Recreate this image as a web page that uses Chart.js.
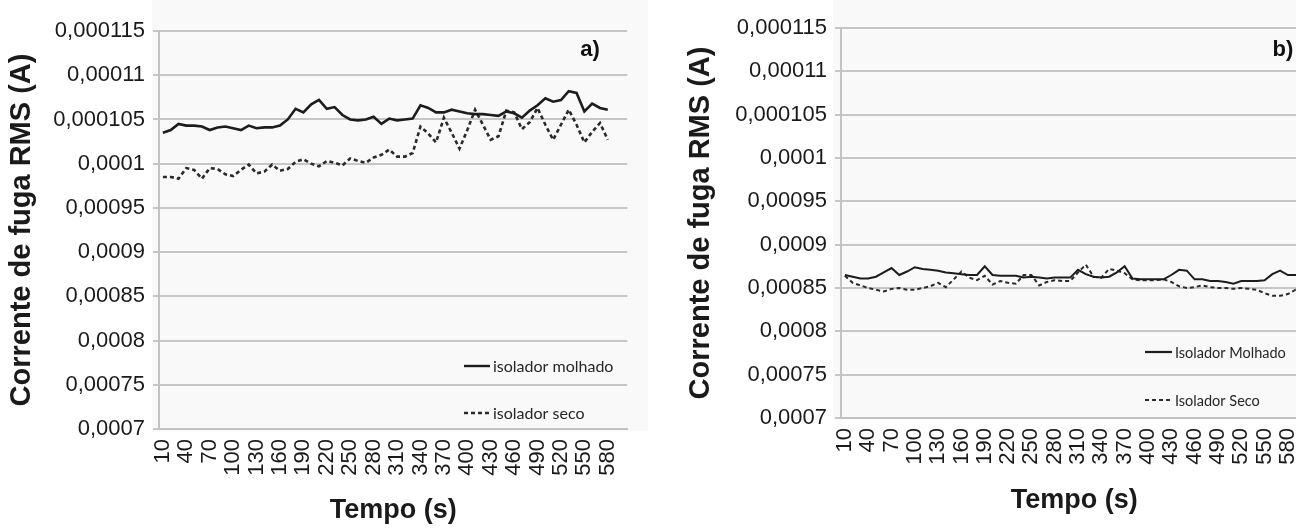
<!DOCTYPE html>
<html>
<head>
<meta charset="utf-8">
<script src="https://cdn.jsdelivr.net/npm/chart.js@4/dist/chart.umd.min.js"></script>
<style>
  html, body { margin:0; padding:0; overflow:hidden; background:#ffffff; width:1296px; height:531px; }
  .panel { position:absolute; top:0; height:531px; }
  #pa { left:0; width:660px; }
  #pb { left:660px; width:680px; }
</style>
</head>
<body>
<div class="panel" id="pa"><canvas id="c1"></canvas></div>
<div class="panel" id="pb"><canvas id="c2"></canvas></div>
<script>
// ---- categories (time, s) ----
const timeLabels = [10,20,30,40,50,60,70,80,90,100,110,120,130,140,150,160,170,180,190,200,
  210,220,230,240,250,260,270,280,290,300,310,320,330,340,350,360,370,380,390,400,
  410,420,430,440,450,460,470,480,490,500,510,520,530,540,550,560,570,580,590,600];

// ---- y tick values (plot units) and the labels printed on the axis ----
const yTickValues = [70,75,80,85,90,95,100,105,110,115];
const yTickLabels = ['0,0007','0,00075','0,0008','0,00085','0,0009','0,00095','0,0001','0,000105','0,00011','0,000115'];

// ---- panel a) ----
const aMolhado = [103.5,103.8,104.5,104.3,104.3,104.2,103.8,104.1,104.2,104.0,
  103.8,104.3,104.0,104.1,104.1,104.3,105.0,106.2,105.8,106.7,
  107.2,106.2,106.4,105.5,105.0,104.9,105.0,105.3,104.5,105.1,
  104.9,105.0,105.1,106.6,106.3,105.8,105.8,106.1,105.9,105.7,
  105.6,105.6,105.5,105.4,105.9,105.7,105.2,106.0,106.6,107.4,
  107.0,107.2,108.2,108.0,105.9,106.8,106.3,106.1];
const aSeco = [98.5,98.5,98.3,99.5,99.3,98.3,99.5,99.4,98.8,98.6,
  99.3,99.9,98.9,99.1,99.9,99.2,99.4,100.2,100.5,100.0,
  99.7,100.3,100.1,99.8,100.6,100.3,100.1,100.7,101.0,101.6,
  100.8,100.8,101.2,104.2,103.4,102.4,105.2,103.5,101.7,103.8,
  106.1,104.4,102.7,103.1,106.0,105.8,103.9,104.7,106.3,104.4,
  102.7,104.4,106.1,104.4,102.4,103.6,104.6,102.7];

// ---- panel b) ----
const bMolhado = [86.5,86.3,86.1,86.1,86.3,86.8,87.3,86.5,86.9,87.4,
  87.2,87.1,87.0,86.8,86.7,86.6,86.5,86.5,87.5,86.5,
  86.4,86.4,86.4,86.2,86.3,86.2,86.1,86.2,86.2,86.2,
  87.1,86.6,86.3,86.2,86.3,86.8,87.5,86.1,86.0,86.0,
  86.0,86.0,86.5,87.1,87.0,86.0,86.0,85.8,85.8,85.7,
  85.5,85.8,85.8,85.8,85.9,86.6,87.0,86.5,86.5,86.4];
const bSeco = [86.4,85.6,85.3,85.0,84.8,84.6,84.9,85.0,84.8,84.8,
  85.0,85.2,85.6,85.1,86.0,86.9,86.2,85.9,86.4,85.4,
  85.8,85.6,85.5,86.5,86.5,85.3,85.7,85.9,85.8,85.8,
  86.8,87.7,86.3,86.2,87.2,87.0,86.7,86.0,85.9,85.9,
  85.9,86.0,85.7,85.2,85.0,85.1,85.3,85.1,85.0,85.0,
  84.9,85.0,84.9,84.8,84.4,84.1,84.1,84.3,84.8,84.6];

const aLegend = ['isolador molhado','isolador seco'];
const bLegend = ['Isolador Molhado','Isolador Seco'];

const FONT = '"Liberation Sans", Arial, sans-serif';

const decorPlugin = {
  id: 'decor',
  beforeDraw(chart, args, o) {
    const ctx = chart.ctx;
    ctx.save();
    ctx.fillStyle = o.bgColor;
    ctx.fillRect(o.bg[0], o.bg[1], o.bg[2] - o.bg[0], o.bg[3] - o.bg[1]);
    ctx.restore();
  },
  afterDraw(chart, args, o) {
    const ctx = chart.ctx;
    ctx.save();
    ctx.fillStyle = '#111';
    ctx.font = 'bold 22px ' + FONT;
    ctx.textAlign = 'center';
    ctx.textBaseline = 'middle';
    ctx.fillText(o.letter, o.letterX, o.letterY);
    chart.data.datasets.forEach((ds, i) => {
      const y = o.legendY[i];
      ctx.strokeStyle = ds.borderColor;
      ctx.lineWidth = o.legendLineWidth;
      ctx.setLineDash(ds.borderDash || []);
      ctx.beginPath();
      ctx.moveTo(o.legendX, y);
      ctx.lineTo(o.legendX + o.legendLen, y);
      ctx.stroke();
      ctx.setLineDash([]);
      ctx.fillStyle = '#262626';
      ctx.font = o.legendFont;
      ctx.textAlign = 'left';
      ctx.textBaseline = 'middle';
      ctx.fillText(ds.label, o.legendX + o.legendLen + 3, y + 1);
    });
    ctx.restore();
  }
};

function makeChart(id, molhado, seco, legendNames, g) {
  const ctx = document.getElementById(id);
  return new Chart(ctx, {
    type: 'line',
    data: {
      labels: timeLabels,
      datasets: [
        { label: legendNames[0], data: molhado, borderColor: '#1c1c1c', borderWidth: g.lw,
          pointRadius: 0, tension: 0, fill: false },
        { label: legendNames[1], data: seco, borderColor: '#2a2a2a', borderWidth: g.lw,
          borderDash: g.dash, pointRadius: 0, tension: 0, fill: false }
      ]
    },
    options: {
      responsive: true,
      maintainAspectRatio: false,
      animation: false,
      devicePixelRatio: 1,
      layout: { padding: { left: g.pl, top: g.pt, right: g.pr, bottom: 0 } },
      plugins: {
        legend: { display: false },
        tooltip: { enabled: false },
        decor: g.decor
      },
      scales: {
        x: {
          type: 'category',
          offset: true,
          grid: { display: false, drawTicks: false },
          border: { display: true, color: '#c2c2c2', width: 2 },
          ticks: {
            autoSkip: false, minRotation: 90, maxRotation: 90, padding: g.xTickPad,
            color: '#1a1a1a', font: { family: FONT, size: 22 },
            callback: (v, i) => (i % 3 === 0 ? String(timeLabels[i]) : '')
          },
          title: {
            display: true, text: 'Tempo (s)', color: '#1a1a1a',
            font: { family: FONT, size: 27, weight: 'bold', lineHeight: 1.2 },
            padding: { top: 0, bottom: g.xTitlePad }
          },
          afterFit: (s) => { s.height = g.xH; }
        },
        y: {
          type: 'linear',
          min: yTickValues[0], max: yTickValues[yTickValues.length - 1],
          afterBuildTicks: (s) => { s.ticks = yTickValues.map(v => ({ value: v })); },
          grid: { color: '#c6c6c6', lineWidth: 2, tickLength: 6, drawTicks: true },
          border: { display: true, color: '#c2c2c2', width: 2 },
          ticks: {
            padding: 8, color: '#1a1a1a', font: { family: FONT, size: 22 },
            callback: (v) => yTickLabels[yTickValues.indexOf(v)]
          },
          title: {
            display: true, text: 'Corrente de fuga RMS (A)', color: '#1a1a1a',
            font: { family: FONT, size: 29, weight: 'bold', lineHeight: 1.2 },
            padding: { top: 0, bottom: 0 }
          },
          afterFit: (s) => { s.width = g.yW; }
        }
      }
    },
    plugins: [decorPlugin]
  });
}

makeChart('c1', aMolhado, aSeco, aLegend, {
  lw: 2.6, dash: [4, 3], pl: 5, pt: 31, pr: 25, yW: 154, xH: 102, xTickPad: 10, xTitlePad: 4,
  decor: {
    bg: [152, 0, 648, 431], bgColor: '#f9f9f9',
    letter: 'a)', letterX: 590, letterY: 50,
    legendX: 464, legendLen: 26, legendY: [366, 413], legendLineWidth: 2.4,
    legendFont: '16px Lato, "Open Sans", sans-serif'
  }
});

makeChart('c2', bMolhado, bSeco, bLegend, {
  lw: 2.0, dash: [4, 3], pl: 24, pt: 28, pr: 24, yW: 157, xH: 113, xTickPad: 10, xTitlePad: 14,
  decor: {
    bg: [173, 0, 680, 420], bgColor: '#f9f9f9',
    letter: 'b)', letterX: 623, letterY: 50,
    legendX: 485, legendLen: 27, legendY: [352, 400], legendLineWidth: 2.2,
    legendFont: '14.5px Lato, "Open Sans", sans-serif'
  }
});
</script>
</body>
</html>
